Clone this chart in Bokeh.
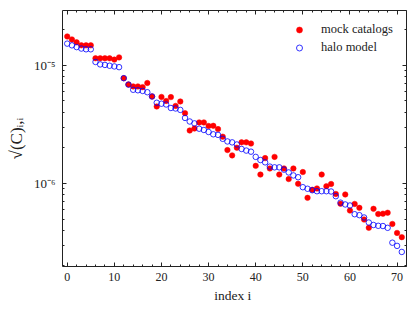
import numpy as np
from bokeh.plotting import figure
from bokeh.models import (LogAxis, LinearAxis, FixedTicker, CustomJSTickFormatter,
                          Legend, LegendItem, Range1d, ColumnDataSource, SingleIntervalTicker)
from bokeh.embed import file_html
from bokeh.resources import INLINE

index = list(range(72))

mock = [1.76e-5, 1.66e-5, 1.57e-5, 1.48e-5, 1.48e-5, 1.48e-5,
        1.15e-5, 1.15e-5, 1.15e-5, 1.15e-5, 1.12e-5, 1.17e-5,
        7.8e-6, 6.9e-6, 6.64e-6, 6.64e-6, 6.55e-6, 7.1e-6,
        5.46e-6, 4.49e-6, 5.41e-6, 5.0e-6, 5.39e-6, 4.54e-6,
        4.95e-6, 3.94e-6, 2.81e-6, 2.92e-6, 3.29e-6, 3.29e-6,
        3.07e-6, 3.08e-6, 2.89e-6, 2.49e-6, 1.92e-6, 1.73e-6,
        2.01e-6, 2.23e-6, 2.23e-6, 2.18e-6, 1.41e-6, 1.19e-6,
        1.64e-6, 1.34e-6, 1.68e-6, 1.19e-6, 1.34e-6, 1.09e-6,
        1.34e-6, 9.94e-7, 1.25e-6, 7.56e-7, 8.84e-7, 9.07e-7,
        1.19e-6, 9.49e-7, 9.9e-7, 8.15e-7, 6.73e-7, 8.07e-7,
        5.9e-7, 6.71e-7, 6.22e-7, 4.95e-7, 4.21e-7, 6.1e-7,
        5.51e-7, 5.55e-7, 5.65e-7, 4.54e-7, 3.81e-7, 3.51e-7]

halo = [1.53e-5, 1.48e-5, 1.43e-5, 1.39e-5, 1.37e-5, 1.37e-5,
        1.07e-5, 1.02e-5, 1.01e-5, 9.94e-6, 9.81e-6, 9.67e-6,
        7.8e-6, 6.88e-6, 6.22e-6, 6.16e-6, 6.08e-6, 5.93e-6,
        5.46e-6, 4.83e-6, 4.74e-6, 4.67e-6, 4.36e-6, 4.32e-6,
        4.2e-6, 3.59e-6, 3.35e-6, 3.23e-6, 2.91e-6, 2.84e-6,
        2.73e-6, 2.61e-6, 2.58e-6, 2.39e-6, 2.27e-6, 2.23e-6,
        2.14e-6, 1.96e-6, 1.9e-6, 1.86e-6, 1.68e-6, 1.58e-6,
        1.51e-6, 1.39e-6, 1.37e-6, 1.37e-6, 1.31e-6, 1.24e-6,
        1.17e-6, 1.13e-6, 9.3e-7, 9.02e-7, 8.77e-7, 8.6e-7,
        8.6e-7, 8.6e-7, 8.55e-7, 7.8e-7, 6.88e-7, 6.64e-7,
        6.51e-7, 5.49e-7, 5.39e-7, 5.15e-7, 4.67e-7, 4.45e-7,
        4.38e-7, 4.36e-7, 4.21e-7, 3.15e-7, 2.96e-7, 2.63e-7]

x_ticks_major = 10
legend_labels = ["mock catalogs", "halo model"]
x_label = "index  i"
y_label = "√(C)ᵢ,ᵢ"

FONT = "Liberation Serif"
INK = "#222222"

src = ColumnDataSource(dict(i=index, mock=mock, halo=halo))

p = figure(width=415, height=312, y_axis_type="log",
           x_range=Range1d(-1, 72), y_range=Range1d(1.98e-7, 2.92e-5),
           output_backend="svg", toolbar_location=None,
           min_border_left=62, min_border_right=9, min_border_top=10, min_border_bottom=46)

p.background_fill_color = "white"
p.border_fill_color = "white"
p.outline_line_color = INK
p.outline_line_width = 1
p.xgrid.visible = False
p.ygrid.visible = False

decades = [1e-7, 1e-6, 1e-5, 1e-4]
minor = [m * d for d in decades for m in range(2, 10)]
yticker = FixedTicker(ticks=decades, minor_ticks=minor)
xticker = SingleIntervalTicker(interval=x_ticks_major, num_minor_ticks=5)

sup_fmt = CustomJSTickFormatter(code="""
const e = Math.round(Math.log10(tick));
const map = {'-':'\u207b','0':'\u2070','1':'\u00b9','2':'\u00b2','3':'\u00b3','4':'\u2074','5':'\u2075','6':'\u2076','7':'\u2077','8':'\u2078','9':'\u2079'};
return '10' + String(e).split('').map(c => map[c]).join('');
""")
blank_fmt = CustomJSTickFormatter(code="return '';")

def style_axis(ax):
    ax.major_tick_in = 4
    ax.major_tick_out = 0
    ax.minor_tick_in = 2
    ax.minor_tick_out = 0
    ax.axis_line_color = None
    ax.major_tick_line_color = INK
    ax.minor_tick_line_color = INK
    ax.major_label_text_font = FONT
    ax.major_label_text_font_size = "12px"
    ax.major_label_text_color = INK
    ax.axis_label_text_font = FONT
    ax.axis_label_text_font_style = "normal"
    ax.axis_label_text_color = INK

yax = p.yaxis[0]
yax.ticker = yticker
yax.formatter = sup_fmt
style_axis(yax)
yax.major_label_text_font_size = "13px"
yax.axis_label = y_label
yax.axis_label_text_font_size = "17px"
yax.major_label_standoff = 7
yax.axis_label_standoff = 5

xax = p.xaxis[0]
xax.ticker = xticker
style_axis(xax)
xax.axis_label = x_label
xax.axis_label_text_font_size = "13.5px"
xax.major_label_standoff = 6
xax.axis_label_standoff = 4

rax = LogAxis(ticker=yticker, formatter=blank_fmt)
style_axis(rax)
rax.major_label_standoff = 0
rax.major_label_text_font_size = "1px"
p.add_layout(rax, "right")

tax = LinearAxis(ticker=xticker, formatter=blank_fmt)
style_axis(tax)
tax.major_label_standoff = 0
tax.major_label_text_font_size = "1px"
p.add_layout(tax, "above")

r_mock = p.scatter("i", "mock", source=src, size=5.5, fill_color="#ff0000",
                   line_color="#ff0000", line_width=0.5)
r_halo = p.scatter("i", "halo", source=src, size=5.5, fill_color=None,
                   line_color="#0000ff", line_width=0.8)

legend = Legend(items=[LegendItem(label=legend_labels[0], renderers=[r_mock]),
                       LegendItem(label=legend_labels[1], renderers=[r_halo])],
                location=(229, 211))
legend.border_line_color = None
legend.background_fill_alpha = 0
legend.label_text_font = FONT
legend.label_text_font_size = "12.5px"
legend.label_text_color = INK
legend.glyph_width = 16
legend.glyph_height = 15
legend.label_height = 15
legend.label_standoff = 14
legend.spacing = 3
legend.padding = 4
legend.margin = 0
p.add_layout(legend)

open("out.html", "w").write(file_html(p, INLINE))
